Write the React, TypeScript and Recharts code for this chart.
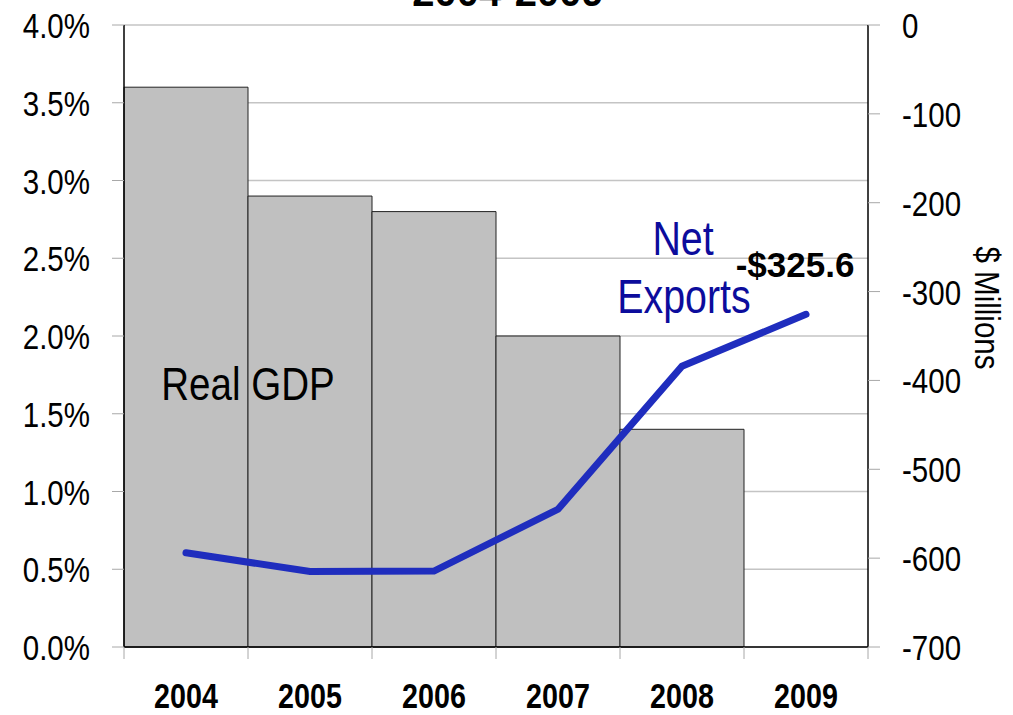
import React from 'react';
import { ComposedChart, Bar, Line, XAxis, YAxis, CartesianGrid, ReferenceDot } from 'recharts';

const years = ['2004', '2005', '2006', '2007', '2008', '2009'];
const realGdp = [3.6, 2.9, 2.8, 2.0, 1.4, null];
const netExports = [-594, -615, -614.5, -545, -384, -325.6];
const gdpTicks = [0, 0.5, 1, 1.5, 2, 2.5, 3, 3.5, 4];
const exportTicks = [-700, -600, -500, -400, -300, -200, -100, 0];

const data = years.map((year, i) => ({ year, gdp: realGdp[i], net: netExports[i] }));

const FONT = '"Liberation Sans", Arial, sans-serif';
const NARROW = 0.82; // no Arial Narrow installed, squeeze Liberation Sans instead
const W = 1013;
const H = 715;
const LEFT_W = 124;
const RIGHT_W = 145;
const TOP = 25;
const XAXIS_H = 68;
const PLOT_BOTTOM = H - XAXIS_H;
const STEP = (W - LEFT_W - RIGHT_W) / years.length;

const NarrowText = ({ x, y, size, anchor = 'middle', color = '#000', weight = 'normal', rotate = 0, children }: any) => (
    <text
        transform={`translate(${x},${y}) rotate(${rotate}) scale(${NARROW},1)`}
        textAnchor={anchor}
        fontFamily={FONT}
        fontSize={size}
        fontWeight={weight}
        fill={color}
    >
        {children}
    </text>
);

const YearTick = (props: any) => {
    const { x, payload, index } = props;
    const left = x - STEP / 2;
    return (
        <g>
            <line x1={left} x2={left} y1={PLOT_BOTTOM} y2={PLOT_BOTTOM + 12} stroke="#a8a8a8" />
            {index === years.length - 1 && (
                <line x1={left + STEP} x2={left + STEP} y1={PLOT_BOTTOM} y2={PLOT_BOTTOM + 12} stroke="#a8a8a8" />
            )}
            <NarrowText x={x} y={H - 7} size={35} weight="bold">{payload.value}</NarrowText>
        </g>
    );
};

const GdpTick = (props: any) => {
    const { x, y, payload } = props;
    return <NarrowText x={x} y={y + 13} size={36} anchor="end">{payload.value.toFixed(1) + '%'}</NarrowText>;
};

const ExportTick = (props: any) => {
    const { x, y, payload } = props;
    return <NarrowText x={x} y={y + 13} size={36} anchor="start">{String(payload.value)}</NarrowText>;
};

const LastLabel = (props: any) => {
    const { viewBox } = props;
    return (
        <text x={viewBox.x - 11} y={viewBox.y - 37} textAnchor="middle" fontFamily={FONT} fontWeight="bold" fontSize={35} fill="#000">
            -$325.6
        </text>
    );
};

export default function App() {
    return (
        <div style={{ position: 'absolute', left: 0, top: 0, width: W, height: H, background: '#fff' }}>
            <ComposedChart width={W} height={H} data={data} margin={{ top: TOP, right: 0, bottom: 0, left: 0 }} barCategoryGap={0}>
                <CartesianGrid vertical={false} stroke="#c4c4c4" strokeWidth={1.5} yAxisId="left" />
                <XAxis
                    dataKey="year"
                    height={XAXIS_H}
                    axisLine={{ stroke: '#000', strokeWidth: 1.5 }}
                    tickLine={false}
                    tick={<YearTick />}
                    interval={0}
                />
                <YAxis
                    yAxisId="left"
                    width={LEFT_W}
                    domain={[0, 4]}
                    ticks={gdpTicks}
                    axisLine={{ stroke: '#000', strokeWidth: 1.5 }}
                    tickLine={{ stroke: '#a8a8a8' }}
                    tickSize={12}
                    tickMargin={22}
                    tick={<GdpTick />}
                />
                <YAxis
                    yAxisId="right"
                    orientation="right"
                    width={RIGHT_W}
                    domain={[-700, 0]}
                    ticks={exportTicks}
                    axisLine={{ stroke: '#000', strokeWidth: 1.5 }}
                    tickLine={{ stroke: '#a8a8a8' }}
                    tickSize={12}
                    tickMargin={22}
                    tick={<ExportTick />}
                />
                <Bar yAxisId="left" dataKey="gdp" fill="#c0c0c0" stroke="#222" strokeWidth={1} isAnimationActive={false} />
                <Line
                    yAxisId="right"
                    type="linear"
                    dataKey="net"
                    stroke="#1f2dbe"
                    strokeWidth={7}
                    strokeLinecap="round"
                    dot={false}
                    isAnimationActive={false}
                />
                <ReferenceDot yAxisId="right" x="2009" y={-325.6} r={0} stroke="none" fill="none" label={<LastLabel />} />
            </ComposedChart>
            <svg width={W} height={H} style={{ position: 'absolute', left: 0, top: 0, pointerEvents: 'none' }}>
                <text x={508} y={6} textAnchor="middle" fontFamily={FONT} fontWeight="bold" fontSize={40} fill="#000">2004-2009</text>
                <NarrowText x={248} y={400} size={47}>Real GDP</NarrowText>
                <NarrowText x={683} y={255} size={48} color="#0c0c9c">Net</NarrowText>
                <NarrowText x={684} y={313} size={48} color="#0c0c9c">Exports</NarrowText>
                <NarrowText x={975} y={308} size={36} rotate={90}>$ Millions</NarrowText>
            </svg>
        </div>
    );
}
